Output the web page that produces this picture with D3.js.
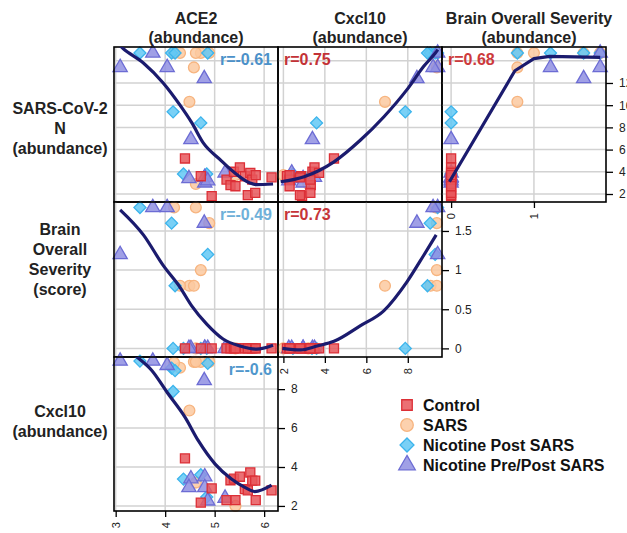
<!DOCTYPE html>
<html>
<head>
<meta charset="utf-8">
<script src="https://cdn.jsdelivr.net/npm/d3@7"></script>
<style>
  body { margin: 0; background: #fff; }
  svg { display: block; font-family: "Liberation Sans", Arial, sans-serif; }
</style>
</head>
<body>
<svg id="chart"></svg>
<script>
const width = 627;
const height = 533;

// groups (index into groupNames), one entry per animal
const groupNames = ["Control", "SARS", "Nicotine Post SARS", "Nicotine Pre/Post SARS"];
const group = [0,0,0,0,0,0,0,0,0,0,0,0,0,0,0,
               1,1,1,1,1,1,1,1,1,
               2,2,2,2,2,2,2,2,
               3,3,3,3,3,3,3,3,3,3];
const ace2 = [4.40,4.72,4.94,5.24,5.32,5.39,5.51,5.61,5.72,5.76,5.67,5.82,6.15,5.42,5.83,
              4.49,4.72,4.30,4.58,4.62,4.18,4.89,4.62,5.42,
              3.49,4.13,4.86,4.20,4.16,4.72,4.37,4.84,
              3.75,3.09,4.04,4.79,4.52,4.48,4.80,4.80,5.21,4.86];
const cxcl10 = [4.44,2.17,2.90,2.30,3.32,3.40,3.50,2.86,3.72,3.30,2.80,3.30,2.80,2.30,2.30,
                6.90,9.40,9.10,9.40,9.40,9.35,9.40,3.20,2.00,
                9.44,9.08,9.32,8.95,7.88,3.60,3.38,2.46,
                9.44,9.44,9.22,8.44,3.40,2.95,3.50,2.95,2.40,2.26];
const sarsN = [5.2,3.6,1.8,3.3,2.8,4.0,4.4,3.6,3.9,3.3,1.9,2.1,3.5,2.7,3.7,
               10.3,14.7,14.7,13.4,14.7,14.7,14.7,2.9,3.7,
               14.7,14.7,14.7,14.7,9.4,8.4,3.8,3.8,
               14.7,13.4,13.4,12.4,6.9,3.4,3.5,3.0,3.9,3.2];
const severity = [0,0,0,0,0,0,0,0,0,0,0,0,0,0,0,
                  0.8,1.0,0.8,0.8,1.8,1.8,1.6,0,0,
                  1.8,1.6,1.2,0.8,0,0,0,0,
                  1.8,1.2,1.8,1.6,0,0,0,0,0,0];

// correlation shown in each panel
const corrValues = [-0.61, 0.75, 0.68, -0.49, 0.73, -0.6];

// smoother lines, [x, y]
const fitNvsAce2 = [[3.09,15.35],[3.15,15.1],[3.56,13.8],[3.96,12.0],[4.30,10.0],[4.54,8.4],[4.77,6.6],[5.11,5.1],[5.38,4.0],[5.71,3.0],[5.84,2.85],[6.18,2.9]];
const fitNvsCxcl10 = [[1.87,3.1],[3.0,3.56],[4.44,4.9],[5.72,6.86],[6.85,8.96],[7.96,11.4],[8.77,13.5],[9.33,14.7],[9.45,15.0]];
const fitNvsSeverity = [[-0.02,3.1],[0.77,13.1],[1.0,14.2],[1.19,14.4],[1.8,14.3]];
const fitSeverityVsAce2 = [[3.09,1.77],[3.56,1.45],[3.96,1.06],[4.30,0.78],[4.54,0.54],[4.84,0.31],[5.17,0.12],[5.51,0.03],[5.85,-0.01],[6.18,0.04]];
const fitSeverityVsCxcl10 = [[1.95,0.0],[2.83,-0.02],[3.63,0.03],[4.44,0.09],[5.72,0.29],[6.84,0.48],[7.96,0.85],[8.77,1.19],[9.37,1.45]];
const fitCxcl10VsAce2 = [[3.09,10.3],[3.39,9.73],[3.73,8.96],[4.06,7.76],[4.40,6.56],[4.67,5.35],[5.01,4.15],[5.34,3.38],[5.61,2.95],[5.81,2.74],[6.15,3.07]];

// tick labels
const ace2Ticks = [3,4,5,6];
const cxcl10Ticks = [2,4,6,8];
const nTicks = [2,4,6,8,10,12];
const nGrid = [2,4,6,8,10,12,14];
const severityXTicks = [0,1];
const severityYTicks = [0,0.5,1,1.5];

const colTitles = [["ACE2","(abundance)"],["Cxcl10","(abundance)"],["Brain Overall Severity","(abundance)"]];
const rowTitles = [["SARS-CoV-2","N","(abundance)"],["Brain","Overall","Severity","(score)"],["Cxcl10","(abundance)"]];

const values = {ace2: ace2, cxcl10: cxcl10, n: sarsN, severity: severity};

//panel layout
const cols = [[114,278],[278,442],[442,606]];
const rows = [[47,202],[202,357],[357,511]];
const domains = {ace2:[2.966,6.28], cxcl10:[1.74,9.65], n:[1.28,15.24], severity:[-0.11,1.87]};
const xTicks = {ace2: ace2Ticks, cxcl10: cxcl10Ticks, severity: severityXTicks};
const yTicks = {n: nTicks, severity: severityYTicks, cxcl10: cxcl10Ticks};
const yGrid = {n: nGrid, severity: severityYTicks, cxcl10: cxcl10Ticks};

const panels = [
  {row:0, col:0, x:"ace2", y:"n", anchor:"end", color:"#4b91c9", fit:fitNvsAce2},
  {row:0, col:1, x:"cxcl10", y:"n", anchor:"start", color:"#c33236", fit:fitNvsCxcl10},
  {row:0, col:2, x:"severity", y:"n", anchor:"start", color:"#cd3a3c", fit:fitNvsSeverity, linear:true},
  {row:1, col:0, x:"ace2", y:"severity", anchor:"end", color:"#6eb0d9", fit:fitSeverityVsAce2},
  {row:1, col:1, x:"cxcl10", y:"severity", anchor:"start", color:"#c63538", fit:fitSeverityVsCxcl10},
  {row:2, col:0, x:"ace2", y:"cxcl10", anchor:"end", color:"#4f97cc", fit:fitCxcl10VsAce2}
];

const shapes = [d3.symbolSquare, d3.symbolCircle, d3.symbolSquare, d3.symbolTriangle];
const shapeSize = [82, 92, 72, 88];
const shapeRot = [0, 0, 45, 0];
const fills = ["#e8575c", "#fcc9a0", "#62c8f4", "#8f8fe2"];
const strokes = ["#dc2f36", "#f7b47f", "#3cb4ec", "#6c6cd4"];
const drawOrder = [1,2,3,0];

const svg = d3.select("#chart").attr("width", width).attr("height", height);

panels.forEach((p, k) => {
  const [x0, x1] = cols[p.col];
  const [y0, y1] = rows[p.row];
  const x = d3.scaleLinear().domain(domains[p.x]).range([x0, x1]);
  const y = d3.scaleLinear().domain(domains[p.y]).range([y1, y0]);
  const g = svg.append("g");

  // grid
  g.selectAll(".vg").data(xTicks[p.x]).enter().append("line")
    .attr("x1", d => x(d)).attr("x2", d => x(d)).attr("y1", y0).attr("y2", y1)
    .attr("stroke", "#d2d2d2").attr("stroke-width", 1.5);
  g.selectAll(".hg").data(yGrid[p.y]).enter().append("line")
    .attr("x1", x0).attr("x2", x1).attr("y1", d => y(d)).attr("y2", d => y(d))
    .attr("stroke", "#d2d2d2").attr("stroke-width", 1.5);

  // points
  drawOrder.forEach(gi => {
    const idx = d3.range(group.length).filter(i => group[i] === gi);
    g.selectAll(null).data(idx).enter().append("path")
      .attr("d", d3.symbol().type(shapes[gi]).size(shapeSize[gi]))
      .attr("transform", i => `translate(${x(values[p.x][i])},${y(values[p.y][i])}) rotate(${shapeRot[gi]})`)
      .attr("fill", fills[gi]).attr("fill-opacity", 0.85)
      .attr("stroke", strokes[gi]).attr("stroke-width", 1.3);
  });

  // border
  g.append("rect").attr("x", x0).attr("y", y0).attr("width", x1 - x0).attr("height", y1 - y0)
    .attr("fill", "none").attr("stroke", "#000").attr("stroke-width", 1.6);

  // smoother
  svg.append("clipPath").attr("id", "clip" + k).append("rect")
    .attr("x", x0).attr("y", y0).attr("width", x1 - x0).attr("height", y1 - y0);
  const line = d3.line().x(d => x(d[0])).y(d => y(d[1]))
    .curve(p.linear ? d3.curveLinear : d3.curveMonotoneX);
  g.append("path").attr("d", line(p.fit)).attr("clip-path", `url(#clip${k})`)
    .attr("fill", "none").attr("stroke", "#1b1b6e").attr("stroke-width", 3.2)
    .attr("stroke-linejoin", "round");

  // r label
  g.append("text")
    .attr("x", p.anchor === "end" ? x1 - 6 : x0 + 6).attr("y", y0 + 18)
    .attr("text-anchor", p.anchor).attr("font-size", 16).attr("font-weight", "bold")
    .attr("fill", p.color).text("r=" + corrValues[k]);

  // bottom axis on the last panel of a column
  if (p.row === 2 - p.col) {
    const ax = svg.append("g").attr("transform", `translate(0,${y1})`)
      .call(d3.axisBottom(x).tickValues(xTicks[p.x]).tickSize(6).tickSizeOuter(0).tickFormat(d3.format("~g")));
    ax.select(".domain").remove();
    ax.selectAll(".tick line").attr("stroke", "#000").attr("stroke-width", 1.3);
    ax.selectAll(".tick text").attr("transform", "rotate(-90)").attr("text-anchor", "end")
      .attr("x", -11).attr("y", 0).attr("dy", "0.35em")
      .attr("font-size", 11).attr("font-family", "Liberation Sans, Arial, sans-serif").attr("fill", "#222");
  }
  // right axis on the last panel of a row
  if (p.col === 2 - p.row) {
    const ay = svg.append("g").attr("transform", `translate(${x1},0)`)
      .call(d3.axisRight(y).tickValues(yTicks[p.y]).tickSize(7).tickPadding(6).tickSizeOuter(0).tickFormat(d3.format("~g")));
    ay.select(".domain").remove();
    ay.selectAll(".tick line").attr("stroke", "#000").attr("stroke-width", 1.3);
    ay.selectAll(".tick text").attr("font-size", 12)
      .attr("font-family", "Liberation Sans, Arial, sans-serif").attr("fill", "#222");
  }
});

// column titles
const colCenters = [196, 360, 529];
colTitles.forEach((t, j) => {
  svg.append("text").attr("x", colCenters[j]).attr("y", 24).attr("text-anchor", "middle")
    .attr("font-size", 16).attr("font-weight", "bold").attr("fill", "#222")
    .selectAll("tspan").data(t).enter().append("tspan")
    .attr("x", colCenters[j]).attr("dy", (d, i) => i === 0 ? 0 : 18.5).text(d => d);
});

// row titles
const rowFirstBaseline = [114, 235, 417];
rowTitles.forEach((t, i) => {
  svg.append("text").attr("x", 60).attr("y", rowFirstBaseline[i]).attr("text-anchor", "middle")
    .attr("font-size", 16).attr("font-weight", "bold").attr("fill", "#222")
    .selectAll("tspan").data(t).enter().append("tspan")
    .attr("x", 60).attr("dy", (d, k) => k === 0 ? 0 : 20).text(d => d);
});

// legend
const legend = svg.append("g").attr("transform", "translate(407,405)");
groupNames.forEach((name, gi) => {
  const row = legend.append("g").attr("transform", `translate(0,${gi * 20})`);
  row.append("path")
    .attr("d", d3.symbol().type(shapes[gi]).size(shapeSize[gi] * 1.35))
    .attr("transform", `rotate(${shapeRot[gi]})`)
    .attr("fill", fills[gi]).attr("fill-opacity", 0.85)
    .attr("stroke", strokes[gi]).attr("stroke-width", 1.3);
  row.append("text").attr("x", 16).attr("y", 5.5)
    .attr("font-size", 16).attr("font-weight", "bold").attr("fill", "#111").text(name);
});
</script>
</body>
</html>
